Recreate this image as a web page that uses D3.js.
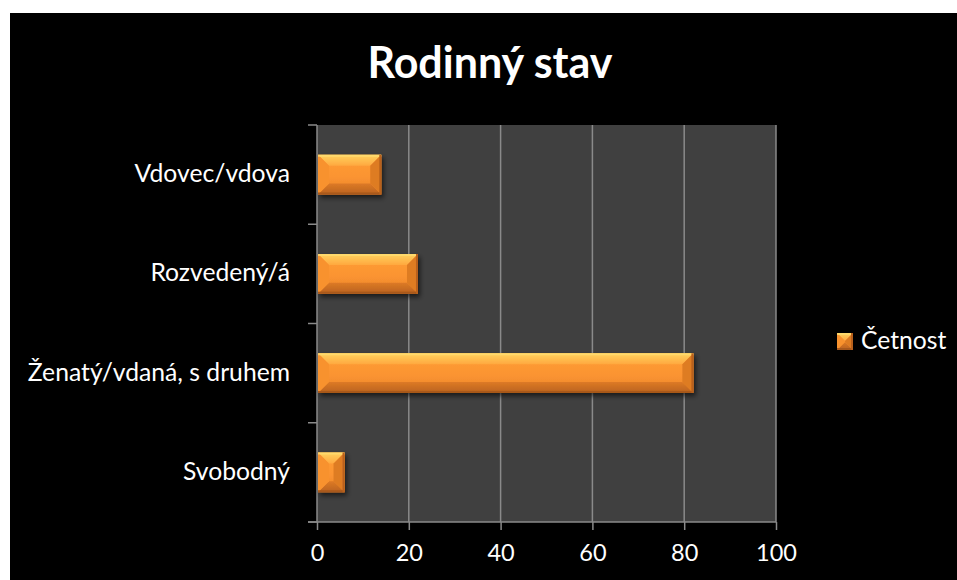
<!DOCTYPE html>
<html><head><meta charset="utf-8">
<script src="https://cdn.jsdelivr.net/npm/d3@7/dist/d3.min.js"></script>
<style>html,body{margin:0;padding:0;background:#fff;}svg{display:block;}</style>
</head><body>
<script>
const categories = ["Vdovec/vdova", "Rozvedený/á", "Ženatý/vdaná, s druhem", "Svobodný"];
const values = [14, 22, 82, 6];
const xTicks = [0, 20, 40, 60, 80, 100];
const seriesName = "Četnost";
const title = "Rodinný stav";

const W = 957, H = 580;
const FONT = "Lato, 'Open Sans', sans-serif";
const svg = d3.select("body").append("svg").attr("width", W).attr("height", H);

const defs = svg.append("defs");
const g1 = defs.append("linearGradient").attr("id","face").attr("x1",0).attr("y1",0).attr("x2",0).attr("y2",1);
g1.append("stop").attr("offset","0%").attr("stop-color","#ff9e36");
g1.append("stop").attr("offset","55%").attr("stop-color","#fb9431");
g1.append("stop").attr("offset","100%").attr("stop-color","#e9832a");
const g2 = defs.append("linearGradient").attr("id","topb").attr("x1",0).attr("y1",0).attr("x2",0).attr("y2",1);
g2.append("stop").attr("offset","0%").attr("stop-color","#ffd35e");
g2.append("stop").attr("offset","100%").attr("stop-color","#ffa83f");
const g3 = defs.append("linearGradient").attr("id","botb").attr("x1",0).attr("y1",0).attr("x2",0).attr("y2",1);
g3.append("stop").attr("offset","0%").attr("stop-color","#dd7a26");
g3.append("stop").attr("offset","100%").attr("stop-color","#b9621e");
const f = defs.append("filter").attr("id","sh").attr("x","-20%").attr("y","-20%").attr("width","150%").attr("height","160%");
f.append("feGaussianBlur").attr("in","SourceAlpha").attr("stdDeviation",2.5);
f.append("feOffset").attr("dx",2).attr("dy",3).attr("result","o");
f.append("feComponentTransfer").append("feFuncA").attr("type","linear").attr("slope",0.6);
const m = f.append("feMerge"); m.append("feMergeNode"); m.append("feMergeNode").attr("in","SourceGraphic");

// chart background
svg.append("rect").attr("x",10).attr("y",13).attr("width",W-10).attr("height",H-13).attr("fill","#000");

const L = 317, R = 776, T = 125, B = 522;
const x = d3.scaleLinear().domain([0,100]).range([L,R]);
const y = d3.scaleBand().domain(categories).range([T,B]).paddingInner(0.6).paddingOuter(0.3);
const yb = d3.scaleBand().domain(categories).range([T,B]);

svg.append("rect").attr("x",L).attr("y",T).attr("width",R-L).attr("height",B-T).attr("fill","#404040");

// gridlines
svg.append("g").selectAll("line").data(xTicks.slice(1)).join("line")
  .attr("x1",d=>x(d)).attr("x2",d=>x(d)).attr("y1",T).attr("y2",B)
  .attr("stroke","#8a8a8a").attr("stroke-width",1.5);

// x axis
const xa = svg.append("g").attr("transform",`translate(0,${B})`)
  .call(d3.axisBottom(x).tickValues(xTicks).tickSize(8).tickPadding(14).tickFormat(d3.format("d")));
xa.select(".domain").attr("stroke","#8a8a8a").attr("stroke-width",1.5).attr("d",`M${L-9},0H${R}`);
xa.selectAll(".tick line").attr("stroke","#8a8a8a").attr("stroke-width",1.5);
xa.selectAll(".tick text").attr("fill","#fff").attr("font-family",FONT).attr("font-size",23.5);

// y axis
const ya = svg.append("g").attr("transform",`translate(${L},0)`);
ya.append("line").attr("x1",0).attr("x2",0).attr("y1",T).attr("y2",B).attr("stroke","#8a8a8a").attr("stroke-width",1.5);
const bounds = categories.map(c=>yb(c)).concat([B]);
ya.selectAll("line.t").data(bounds).join("line").attr("class","t")
  .attr("x1",-9).attr("x2",0).attr("y1",d=>d).attr("y2",d=>d).attr("stroke","#8a8a8a").attr("stroke-width",1.5);
ya.selectAll("text").data(categories).join("text")
  .attr("x",-27).attr("y",d=>yb(d)+yb.bandwidth()/2).attr("dy","0.3em")
  .attr("text-anchor","end").attr("fill","#fff").attr("font-family",FONT).attr("font-size",24.7).text(d=>d);

// bars
function bevelBar(sel, x0, y0, w, h) {
  const b = Math.min(11, w/2, h/2);
  sel.append("rect").attr("x",x0).attr("y",y0).attr("width",w).attr("height",h).attr("fill","url(#face)");
  const x1 = x0+w, y1 = y0+h;
  sel.append("polygon").attr("points",[[x0,y0],[x1,y0],[x1-b,y0+b],[x0+b,y0+b]].join(" ")).attr("fill","url(#topb)");
  sel.append("polygon").attr("points",[[x0,y1],[x1,y1],[x1-b,y1-b],[x0+b,y1-b]].join(" ")).attr("fill","url(#botb)");
  sel.append("polygon").attr("points",[[x0,y0],[x0+b,y0+b],[x0+b,y1-b],[x0,y1]].join(" ")).attr("fill","#f8922f");
  sel.append("polygon").attr("points",[[x1,y0],[x1-b,y0+b],[x1-b,y1-b],[x1,y1]].join(" ")).attr("fill","#de7b24");
  sel.append("rect").attr("x",x0).attr("y",y0).attr("width",w).attr("height",2).attr("fill","#ffdc70").attr("opacity",0.8);
  sel.append("rect").attr("x",x0).attr("y",y1-2).attr("width",w).attr("height",2).attr("fill","#a8581a");
  sel.append("rect").attr("x",x1-2).attr("y",y0).attr("width",2).attr("height",h).attr("fill","#b8601c");
}
const bars = svg.append("g");
categories.forEach((c,i)=>{
  const gb = bars.append("g").attr("filter","url(#sh)");
  bevelBar(gb, x(0)+1, y(c), x(values[i])-x(0)-1, y.bandwidth());
});

// title
svg.append("text").attr("x",490).attr("y",78).attr("text-anchor","middle")
  .attr("fill","#fff").attr("font-family",FONT).attr("font-weight","bold").attr("font-size",43).text(title);

// legend
const lg = svg.append("g").attr("filter","url(#sh)");
bevelBar(lg, 837, 333, 16, 17);
svg.append("text").attr("x",861).attr("y",349).attr("fill","#fff").attr("font-family",FONT).attr("font-size",24.7).text(seriesName);
</script>
</body></html>
